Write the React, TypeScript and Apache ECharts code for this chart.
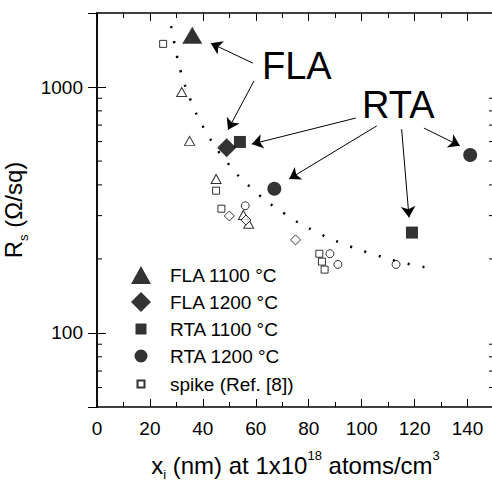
import React, { useEffect, useRef } from 'react';
import * as echarts from 'echarts';

const FONT = '"Liberation Sans", Arial, Helvetica, sans-serif';

// Data series: [x_i (nm), R_s (Ohm/sq)]
const fla1100 = [[36, 1625]];
const fla1200 = [[49, 566]];
const rta1100 = [[54, 598], [119, 256]];
const rta1200 = [[67, 386], [141, 529]];
const spikeSquare = [[25, 1498], [45, 379], [47, 320], [84, 210], [85, 195], [86, 181]];
const spikeTriangle = [[32, 954], [35, 604], [45, 423], [55.3, 302], [57.3, 278]];
const spikeDiamond = [[50, 299], [56.3, 288], [75, 239]];
const spikeCircle = [[56, 329], [88, 210], [91, 190], [113, 190]];
const trendCurve = [
  [28, 1766], [29.1, 1535], [30.2, 1336], [31.6, 1161], [35.5, 877], [41, 663],
  [48.7, 501], [59.4, 379], [71, 305], [82.3, 259], [93.7, 229], [105.1, 208],
  [116.6, 192], [128, 182],
];

// Annotation arrows: [x1, y1, x2, y2] in data units (start -> head)
const flaArrows = [[58.9, 1251, 43.0, 1507], [59.3, 1058, 49.5, 670]];
const rtaArrows = [
  [97.8, 748, 58.5, 586],
  [105.7, 695, 72.6, 423],
  [115.1, 674, 117.9, 295],
  [123.5, 681, 137.1, 577],
];

// Axis ticks
const xMin = 0;
const xMax = 150;
const xInterval = 20;
const yMin = 50;
const yMax = 2000;
const yLabels = [100, 1000];
const yMinorTicks = [60, 70, 80, 90, 200, 300, 400, 500, 600, 700, 800, 900];

const legendNames = ['FLA 1100 °C', 'FLA 1200 °C', 'RTA 1100 °C', 'RTA 1200 °C', 'spike (Ref. [8])'];

export default function App() {
  const ref = useRef<HTMLDivElement>(null);
  useEffect(() => {
    document.body.style.margin = '0';
    const chart = echarts.init(ref.current!, null, { renderer: 'svg' });

    const black = '#000';
    const openStyle = { color: '#fff', borderColor: black, borderWidth: 1 };
    const filledStyle = { color: black };

    const xAxisBase = {
      type: 'value',
      min: xMin,
      max: xMax,
      interval: xInterval,
      axisLine: { show: true, lineStyle: { color: black, width: 1.5 } },
      axisTick: { show: true, inside: true, length: 8, lineStyle: { color: black, width: 1 } },
      minorTick: { show: true, splitNumber: 2, length: 5, lineStyle: { color: black, width: 1 } },
      splitLine: { show: false },
      minorSplitLine: { show: false },
    };
    const yAxisBase = {
      type: 'log',
      logBase: 10,
      min: yMin,
      max: yMax,
      axisLine: { show: true, lineStyle: { color: black, width: 1.5 } },
      axisTick: { show: true, inside: true, length: 9, lineStyle: { color: black, width: 1 } },
      splitLine: { show: false },
    };

    const arrowLines = [...flaArrows, ...rtaArrows].map((a) => [
      { coord: [a[0], a[1]] },
      { coord: [a[2], a[3]] },
    ]);

    const option: any = {
      animation: false,
      textStyle: { fontFamily: FONT },
      grid: { left: 97, top: 13, width: 397, height: 394, containLabel: false, outerBoundsMode: 'none' },
      legend: {
        orient: 'vertical',
        left: 125,
        top: 260,
        itemWidth: 20,
        itemHeight: 20,
        itemGap: 7,
        selectedMode: false,
        textStyle: { fontSize: 19, color: black, fontFamily: FONT, padding: [0, 0, 0, 14] },
        data: [
          { name: legendNames[0], icon: 'path://M0,0M20,20M10,1L20,19L0,19Z' },
          { name: legendNames[1], icon: 'path://M0,0M20,20M10,0L20,10L10,20L0,10Z' },
          { name: legendNames[2], icon: 'path://M0,0M20,20M4.5,4.5L15.5,4.5L15.5,15.5L4.5,15.5Z' },
          { name: legendNames[3], icon: 'path://M0,0M20,20M16.5,10A6.5,6.5,0,1,1,3.5,10A6.5,6.5,0,1,1,16.5,10Z' },
          { name: legendNames[4], icon: 'path://M0,0M20,20M6.5,6.5L13.5,6.5L13.5,13.5L6.5,13.5Z' },
        ],
      },
      xAxis: [
        {
          ...xAxisBase,
          position: 'bottom',
          axisLabel: { show: true, color: black, fontSize: 19, fontFamily: FONT, margin: 12, showMaxLabel: false },
          name: '{a|x}{s|i}{a| (nm) at 1x10}{p|18}{a| atoms/cm}{p|3}',
          nameLocation: 'middle',
          nameGap: 42,
          nameTextStyle: {
            color: black,
            rich: {
              a: { fontSize: 24, fontFamily: FONT, color: black, lineHeight: 32 },
              s: { fontSize: 13, fontFamily: FONT, color: black, verticalAlign: 'bottom', lineHeight: 32 },
              p: { fontSize: 13, fontFamily: FONT, color: black, verticalAlign: 'top', lineHeight: 32 },
            },
          },
        },
        {
          ...xAxisBase,
          position: 'top',
          axisLabel: { show: false },
        },
      ],
      yAxis: [
        {
          ...yAxisBase,
          position: 'left',
          axisLabel: {
            show: true,
            color: black,
            fontSize: 19,
            fontFamily: FONT,
            margin: 14,
            showMinLabel: false,
            showMaxLabel: false,
            formatter: (v: number) => {
              const r = Math.round(v);
              return yLabels.indexOf(r) >= 0 ? String(r) : '';
            },
          },
          name: '{a|R}{s|s}{a| (Ω/sq)}',
          nameLocation: 'middle',
          nameGap: 55,
          nameRotate: 90,
          nameTextStyle: {
            color: black,
            rich: {
              a: { fontSize: 24, fontFamily: FONT, color: black, lineHeight: 32 },
              s: { fontSize: 13, fontFamily: FONT, color: black, verticalAlign: 'bottom', lineHeight: 32 },
            },
          },
        },
        {
          ...yAxisBase,
          position: 'right',
          axisLabel: { show: false },
        },
      ],
      series: [
        {
          type: 'custom',
          name: 'yMinorTicks',
          xAxisIndex: 0,
          yAxisIndex: 0,
          silent: true,
          clip: false,
          data: yMinorTicks.map((v) => [xMin, v]),
          renderItem: (params: any, api: any) => {
            const v = api.value(1);
            const pL = api.coord([xMin, v]);
            const pR = api.coord([xMax, v]);
            return {
              type: 'group',
              children: [
                { type: 'line', shape: { x1: pL[0], y1: pL[1], x2: pL[0] + 5, y2: pL[1] }, style: { stroke: black, lineWidth: 1 } },
                { type: 'line', shape: { x1: pR[0], y1: pR[1], x2: pR[0] - 5, y2: pR[1] }, style: { stroke: black, lineWidth: 1 } },
              ],
            };
          },
        },
        {
          type: 'line',
          name: 'trend',
          data: trendCurve,
          smooth: true,
          symbol: 'none',
          silent: true,
          lineStyle: { color: black, width: 2.5, type: [2, 13], cap: 'butt' },
          markLine: {
            silent: true,
            symbol: ['none', 'arrow'],
            symbolSize: 11,
            label: { show: false },
            lineStyle: { color: black, width: 1, type: 'solid' },
            emphasis: { disabled: true },
            data: arrowLines,
          },
        },
        { type: 'scatter', name: 'spike tri', data: spikeTriangle, symbol: 'triangle', symbolSize: [10, 9], itemStyle: openStyle, silent: true },
        { type: 'scatter', name: 'spike dia', data: spikeDiamond, symbol: 'diamond', symbolSize: 10, itemStyle: openStyle, silent: true },
        { type: 'scatter', name: 'spike circ', data: spikeCircle, symbol: 'circle', symbolSize: 8, itemStyle: openStyle, silent: true },
        { type: 'scatter', name: legendNames[4], data: spikeSquare, symbol: 'rect', symbolSize: 7, itemStyle: openStyle, silent: true },
        { type: 'scatter', name: legendNames[0], data: fla1100, symbol: 'triangle', symbolSize: [20, 17], itemStyle: filledStyle, silent: true },
        { type: 'scatter', name: legendNames[1], data: fla1200, symbol: 'diamond', symbolSize: 19, itemStyle: filledStyle, silent: true },
        { type: 'scatter', name: legendNames[2], data: rta1100, symbol: 'rect', symbolSize: 12, itemStyle: filledStyle, silent: true },
        { type: 'scatter', name: legendNames[3], data: rta1200, symbol: 'circle', symbolSize: 14, itemStyle: filledStyle, silent: true },
      ],
      graphic: [
        { type: 'text', left: 262, top: 47, style: { text: 'FLA', fontSize: 38, fontFamily: FONT, fill: black } },
        { type: 'text', left: 362, top: 86, style: { text: 'RTA', fontSize: 38, fontFamily: FONT, fill: black } },
      ],
    };

    chart.setOption(option);
    return () => chart.dispose();
  }, []);
  return <div ref={ref} style={{ width: 492, height: 486 }} />;
}
